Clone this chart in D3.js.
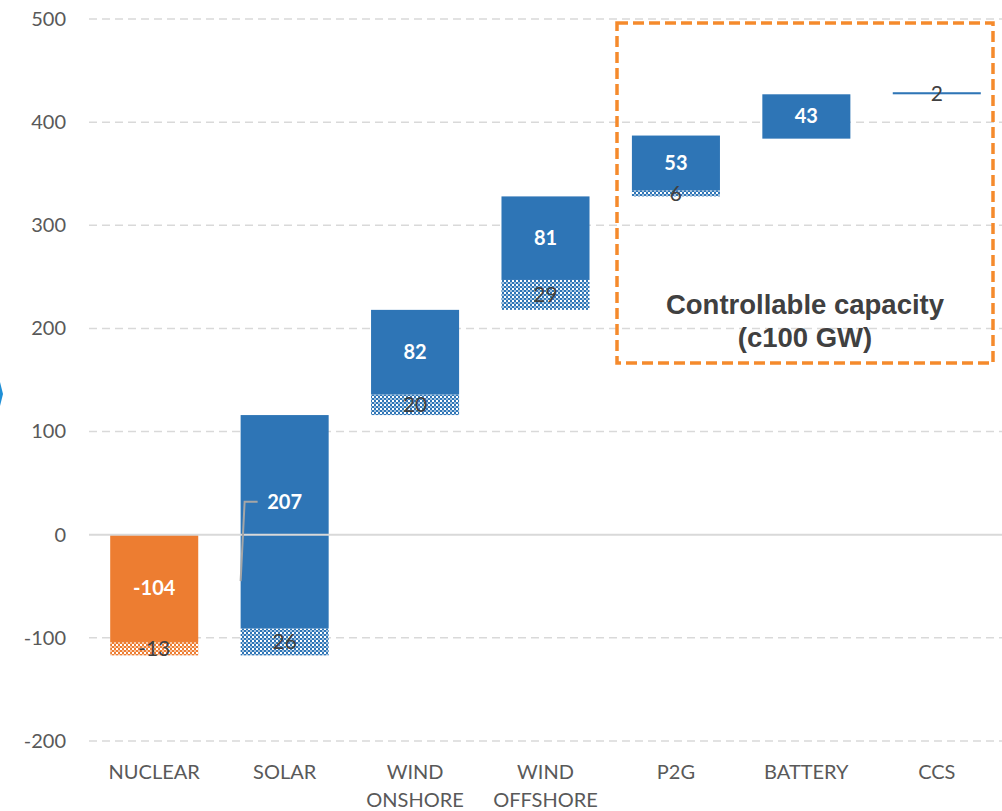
<!DOCTYPE html>
<html>
<head>
<meta charset="utf-8">
<script src="https://cdn.jsdelivr.net/npm/d3@7/dist/d3.min.js"></script>
<style>
  html, body { margin: 0; padding: 0; background: #fff; }
  svg { display: block; }
</style>
</head>
<body>
<svg id="chart" width="1002" height="811"></svg>
<script>
// Capacity change by technology (GW), drawn as a waterfall
const categories = ["NUCLEAR", "SOLAR", "WIND\nONSHORE", "WIND\nOFFSHORE", "P2G", "BATTERY", "CCS"];
// where each column starts on the running total
const startValues = [0, -117, 116, 218, 328, 384, 427];
// firm (hatched) part of each step
const firmValues = [-13, 26, 20, 29, 6, 0, 0];
// main (solid) part of each step
const mainValues = [-104, 207, 82, 81, 53, 43, 2];
const colorKeys = ["orange", "blue", "blue", "blue", "blue", "blue", "blue"];
const yTicks = [-200, -100, 0, 100, 200, 300, 400, 500];

const palette = { orange: "#ED7D31", blue: "#2E75B6" };

const svg = d3.select("#chart");
const x = d3.scaleBand().domain(categories).range([89, 1002]).paddingInner(0.325).paddingOuter(0.1625);
const y = d3.scaleLinear().domain([-200, 500]).range([741, 19]);

// checkered fills for the firm segments
const defs = svg.append("defs");
Object.entries(palette).forEach(([k, c]) => {
  const p = defs.append("pattern").attr("id", "chk-" + k)
    .attr("patternUnits", "userSpaceOnUse").attr("width", 4).attr("height", 4);
  p.append("rect").attr("width", 4).attr("height", 4).attr("fill", c);
  p.append("rect").attr("x", 0).attr("y", 0).attr("width", 2).attr("height", 2).attr("fill", "#fff");
  p.append("rect").attr("x", 2).attr("y", 2).attr("width", 2).attr("height", 2).attr("fill", "#fff").attr("opacity", 0.55);
});

// gridlines
svg.append("g").selectAll("line").data(yTicks.filter(t => t !== 0)).join("line")
  .attr("x1", 89).attr("x2", 1002)
  .attr("y1", d => y(d)).attr("y2", d => y(d))
  .attr("stroke", "#D9D9D9").attr("stroke-width", 1.5).attr("stroke-dasharray", "8,5");

// y axis labels
const yAxis = d3.axisLeft(y).tickValues(yTicks).tickSize(0).tickPadding(0).tickFormat(d => String(d));
const ya = svg.append("g").attr("transform", "translate(66,0)").call(yAxis);
ya.select(".domain").remove();
ya.selectAll("text").attr("font-family", "Lato, 'Open Sans', sans-serif").attr("font-size", 20)
  .attr("fill", "#595959");

// build segments
const segs = [];
categories.forEach((c, i) => {
  const firm = firmValues[i], main = mainValues[i];
  let pos = startValues[i];
  const order = main < 0 ? [["main", main], ["firm", firm]] : [["firm", firm], ["main", main]];
  order.forEach(([kind, v]) => {
    if (v !== 0) segs.push({ c, i, kind, v, a: pos, b: pos + v });
    pos += v;
  });
});

const bars = svg.append("g");
bars.selectAll("rect").data(segs).join("rect")
  .attr("x", d => x(d.c))
  .attr("width", x.bandwidth())
  .attr("y", d => y(Math.max(d.a, d.b)))
  .attr("height", d => Math.abs(y(d.a) - y(d.b)))
  .attr("fill", d => d.kind === "firm" ? `url(#chk-${colorKeys[d.i]})` : palette[colorKeys[d.i]]);

// zero line
svg.append("line").attr("x1", 89).attr("x2", 1002).attr("y1", y(0)).attr("y2", y(0))
  .attr("stroke", "#D9D9D9").attr("stroke-width", 2);

// leader line for the moved solar label
const solarX = x("SOLAR");
svg.append("polyline")
  .attr("points", [[solarX, y(-45)], [solarX + 4, y(32)], [solarX + 17, y(32)]].map(p => p.join(",")).join(" "))
  .attr("fill", "none").attr("stroke", "#A6A6A6").attr("stroke-width", 2);

// value labels
const labelFont = "Lato, 'Open Sans', sans-serif";
const labels = svg.append("g").attr("font-family", labelFont).attr("font-size", 20).attr("text-anchor", "middle");
segs.forEach(d => {
  const cx = x(d.c) + x.bandwidth() / 2;
  let cy = y((d.a + d.b) / 2);
  if (d.c === "SOLAR" && d.kind === "main") cy = y(32);
  const isMain = d.kind === "main" && Math.abs(d.v) > 5;
  labels.append("text")
    .attr("x", cx).attr("y", cy).attr("dy", "0.35em")
    .attr("fill", isMain ? "#fff" : "#404040")
    .attr("font-weight", isMain ? "bold" : "normal")
    .attr("font-size", isMain ? 20 : 21)
    .text(d.v);
});

// category labels
const xl = svg.append("g").attr("font-family", labelFont).attr("font-size", 20).attr("fill", "#595959").attr("text-anchor", "middle");
categories.forEach(c => {
  const t = xl.append("text").attr("x", x(c) + x.bandwidth() / 2).attr("y", 779);
  c.split("\n").forEach((line, k) => {
    t.append("tspan").attr("x", x(c) + x.bandwidth() / 2).attr("dy", k === 0 ? 0 : 28).text(line);
  });
});

// controllable capacity box
svg.append("rect").attr("x", 617).attr("y", 23).attr("width", 376).attr("height", 340)
  .attr("fill", "none").attr("stroke", "#F58A2C").attr("stroke-width", 3.5).attr("stroke-dasharray", "11,5");
const box = svg.append("text").attr("x", 805).attr("y", 314).attr("text-anchor", "middle")
  .attr("font-family", "'Liberation Sans', Arial, sans-serif").attr("font-weight", "bold")
  .attr("font-size", 27.5).attr("fill", "#404040");
box.append("tspan").attr("x", 805).text("Controllable capacity");
box.append("tspan").attr("x", 805).attr("dy", 33).text("(c100 GW)");

// edge marker at left margin
svg.append("path").attr("d", "M-10,382 L0,382 L3,394 L0,406 L-10,406 Z").attr("fill", "#1F8FD6");
</script>
</body>
</html>
